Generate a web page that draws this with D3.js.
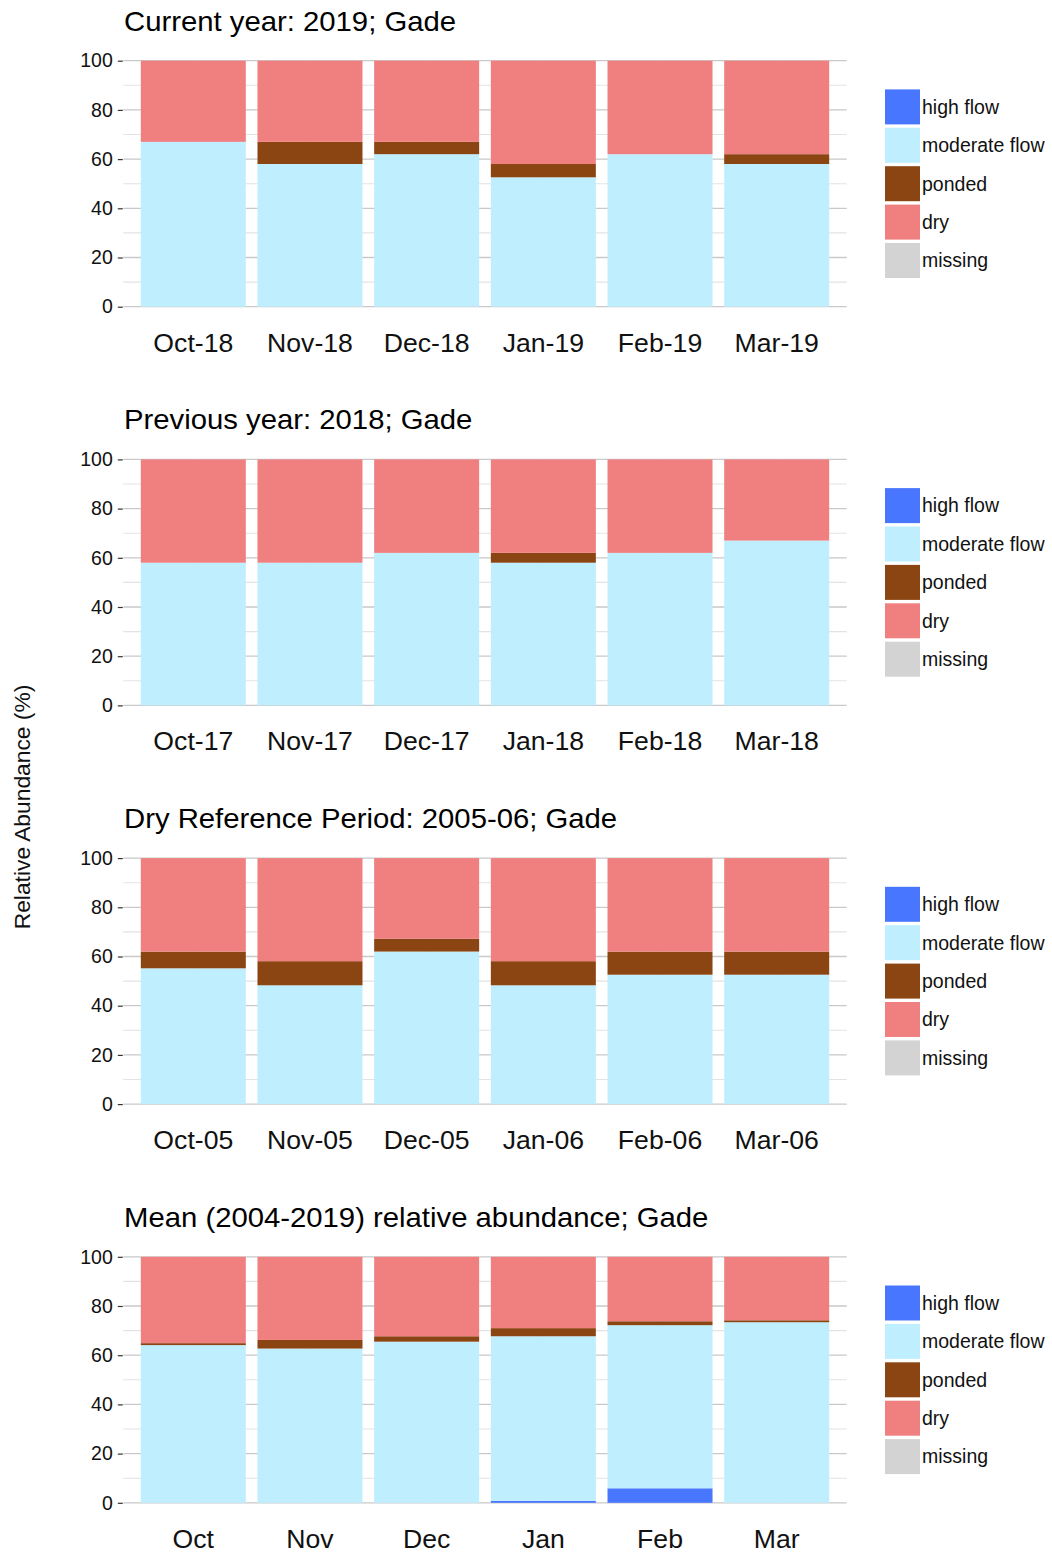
<!DOCTYPE html>
<html>
<head>
<meta charset="utf-8">
<script src="https://cdn.jsdelivr.net/npm/d3@7/dist/d3.min.js"></script>
<style>
  html, body { margin: 0; padding: 0; background: #fff; }
  svg { display: block; font-family: "Liberation Sans", Arial, Helvetica, sans-serif; }
</style>
</head>
<body>
<svg id="chart" width="1052" height="1555"></svg>
<script>
// Flow-state classes, bottom of the stack first
const states = ["high flow", "moderate flow", "ponded", "dry", "missing"];
const stateColors = ["#4876FF", "#BFEFFF", "#8B4513", "#F08080", "#D3D3D3"];

// Panel titles
const titles = [
  "Current year: 2019; Gade",
  "Previous year: 2018; Gade",
  "Dry Reference Period: 2005-06; Gade",
  "Mean (2004-2019) relative abundance; Gade"
];

// Month labels of each panel
const months2019 = ["Oct-18", "Nov-18", "Dec-18", "Jan-19", "Feb-19", "Mar-19"];
const months2018 = ["Oct-17", "Nov-17", "Dec-17", "Jan-18", "Feb-18", "Mar-18"];
const months2005 = ["Oct-05", "Nov-05", "Dec-05", "Jan-06", "Feb-06", "Mar-06"];
const monthsMean = ["Oct", "Nov", "Dec", "Jan", "Feb", "Mar"];

// Relative abundance (%) per class, current year
const cur_high     = [0, 0, 0, 0, 0, 0];
const cur_moderate = [67, 58, 62, 52.6, 62, 58];
const cur_ponded   = [0, 9, 5, 5.4, 0, 4];
const cur_dry      = [33, 33, 33, 42, 38, 38];
const cur_missing  = [0, 0, 0, 0, 0, 0];

// Previous year
const prev_high     = [0, 0, 0, 0, 0, 0];
const prev_moderate = [58, 58, 62, 58, 62, 67];
const prev_ponded   = [0, 0, 0, 4, 0, 0];
const prev_dry      = [42, 42, 38, 38, 38, 33];
const prev_missing  = [0, 0, 0, 0, 0, 0];

// Dry reference period 2005-06
const ref_high     = [0, 0, 0, 0, 0, 0];
const ref_moderate = [55.2, 48.3, 62, 48.3, 52.6, 52.6];
const ref_ponded   = [6.8, 9.8, 5.2, 9.8, 9.4, 9.4];
const ref_dry      = [38, 41.9, 32.8, 41.9, 38, 38];
const ref_missing  = [0, 0, 0, 0, 0, 0];

// Long-term mean 2004-2019
const mean_high     = [0, 0, 0, 0.8, 5.9, 0];
const mean_moderate = [64.1, 62.7, 65.5, 66.9, 66.3, 73.4];
const mean_ponded   = [0.8, 3.5, 2.2, 3.3, 1.6, 0.8];
const mean_dry      = [35.1, 33.8, 32.3, 29, 26.2, 25.8];
const mean_missing  = [0, 0, 0, 0, 0, 0];

const yTicks = [0, 20, 40, 60, 80, 100];
const yMinor = [10, 30, 50, 70, 90];

function rows(cats, series) {
  return cats.map((c, i) => {
    const r = { month: c };
    states.forEach((s, k) => { r[s] = series[k][i]; });
    return r;
  });
}

const panels = [
  { title: titles[0], data: rows(months2019, [cur_high, cur_moderate, cur_ponded, cur_dry, cur_missing]) },
  { title: titles[1], data: rows(months2018, [prev_high, prev_moderate, prev_ponded, prev_dry, prev_missing]) },
  { title: titles[2], data: rows(months2005, [ref_high, ref_moderate, ref_ponded, ref_dry, ref_missing]) },
  { title: titles[3], data: rows(monthsMean, [mean_high, mean_moderate, mean_ponded, mean_dry, mean_missing]) }
];

const svg = d3.select("#chart");
const plotLeft = 123.3, plotRight = 846.7;
const panelTop0 = 60.7, panelStep = 398.7, panelH = 246;

const color = d3.scaleOrdinal().domain(states).range(stateColors);
const stack = d3.stack().keys(states);

panels.forEach((p, pi) => {
  const top = panelTop0 + pi * panelStep;
  const g = svg.append("g");

  const x = d3.scaleBand()
    .domain(p.data.map(d => d.month))
    .range([plotLeft, plotRight])
    .paddingInner(0.1)
    .paddingOuter(0.15);
  const y = d3.scaleLinear().domain([0, 100]).range([top + panelH, top]);

  // minor grid
  g.append("g").selectAll("line").data(yMinor).join("line")
    .attr("x1", plotLeft).attr("x2", plotRight)
    .attr("y1", d => y(d)).attr("y2", d => y(d))
    .attr("stroke", "#e3e3e3").attr("stroke-width", 1.1);
  // major grid
  g.append("g").selectAll("line").data(yTicks).join("line")
    .attr("x1", plotLeft).attr("x2", plotRight)
    .attr("y1", d => y(d)).attr("y2", d => y(d))
    .attr("stroke", "#c9c9c9").attr("stroke-width", 1.3);
  // vertical grid at month centres
  g.append("g").selectAll("line").data(p.data).join("line")
    .attr("x1", d => x(d.month) + x.bandwidth() / 2)
    .attr("x2", d => x(d.month) + x.bandwidth() / 2)
    .attr("y1", y(0)).attr("y2", y(100))
    .attr("stroke", "#e3e3e3").attr("stroke-width", 1.1);

  // stacked bars
  const series = stack(p.data);
  g.append("g").selectAll("g").data(series).join("g")
    .attr("fill", d => color(d.key))
    .selectAll("rect").data(d => d).join("rect")
    .attr("x", d => x(d.data.month))
    .attr("width", x.bandwidth())
    .attr("y", d => y(d[1]))
    .attr("height", d => Math.max(0, y(d[0]) - y(d[1])));

  // y axis
  const yAxis = d3.axisLeft(y).tickValues(yTicks).tickSize(5).tickPadding(5);
  const ya = g.append("g").attr("transform", `translate(${plotLeft - 0.5},0)`).call(yAxis);
  ya.select(".domain").remove();
  ya.selectAll(".tick line").attr("stroke", "#333").attr("stroke-width", 1.2);
  ya.selectAll(".tick text").attr("fill", "#111").style("font-size", "19.5px");

  // x axis labels
  const xAxis = d3.axisBottom(x).tickSize(0).tickPadding(0);
  const xa = g.append("g").attr("transform", `translate(0,${y(0)})`).call(xAxis);
  xa.select(".domain").remove();
  xa.selectAll(".tick text")
    .attr("y", 45).attr("dy", null)
    .attr("transform", "scale(1.065,1)")
    .attr("fill", "#111").style("font-size", "25px");

  // title
  g.append("text")
    .attr("transform", `translate(124,${top - 30}) scale(1.085,1)`)
    .attr("fill", "#000").style("font-size", "27px")
    .text(p.title);

  // legend
  const keyH = 35, keyGap = 3.4;
  const legTop = top + panelH / 2 - (states.length * (keyH + keyGap) - keyGap) / 2;
  const leg = g.append("g").attr("transform", `translate(885,${legTop})`);
  const item = leg.selectAll("g").data(states).join("g")
    .attr("transform", (d, i) => `translate(0,${i * (keyH + keyGap)})`);
  item.append("rect")
    .attr("width", 35).attr("height", keyH)
    .attr("fill", d => color(d));
  item.append("text")
    .attr("x", 37).attr("y", keyH / 2).attr("dy", "0.35em")
    .attr("fill", "#111").style("font-size", "19.5px")
    .text(d => d);
});

// shared y-axis title
svg.append("text")
  .attr("transform", "translate(30,807) rotate(-90)")
  .attr("text-anchor", "middle")
  .attr("fill", "#111").style("font-size", "22.8px")
  .text("Relative Abundance (%)");
</script>
</body>
</html>
